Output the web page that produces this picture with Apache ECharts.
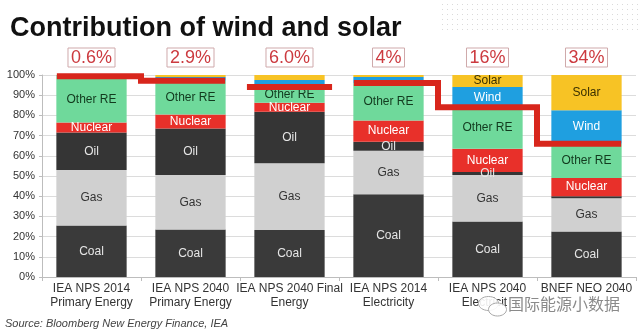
<!DOCTYPE html>
<html>
<head>
<meta charset="utf-8">
<script src="https://cdn.jsdelivr.net/npm/echarts@6/dist/echarts.min.js"></script>
<style>
  html, body { margin: 0; padding: 0; background: #fff; }
  #chart { width: 640px; height: 333px; }
</style>
</head>
<body>
<div id="chart"></div>
<script>
// Energy mix by scenario (% of total)
const categories = [
  'IEA NPS 2014\nPrimary Energy',
  'IEA NPS 2040\nPrimary Energy',
  'IEA NPS 2040 Final\nEnergy',
  'IEA NPS 2014\nElectricity',
  'IEA NPS 2040\nElectricity',
  'BNEF NEO 2040\nElectricity'
];
const coal    = [25.5, 23.5, 23.3, 41.0, 27.5, 22.5];
const gas     = [27.5, 27.0, 33.0, 21.5, 23.0, 16.5];
const oil     = [18.5, 23.0, 25.5,  4.5,  1.5,  1.0];
const nuclear = [ 5.0,  7.0,  4.5, 10.5, 11.5,  9.0];
const otherRE = [22.9, 16.6,  7.7, 18.5, 20.5, 17.0];
const wind    = [ 0.4,  1.9,  3.5,  3.0, 10.0, 16.5];
const solar   = [ 0.2,  1.0,  2.5,  1.0,  6.0, 17.5];

// Combined wind + solar share, shown above each bar
const windSolarShare = [0.6, 2.9, 6.0, 4, 16, 34];
const shareLabels = ['0.6%', '2.9%', '6.0%', '4%', '16%', '34%'];

// Groups of bars joined by the stepped threshold line
const lineGroups = [[0, 1], [2], [3, 4, 5]];

const FONT = '"Liberation Sans", Arial, sans-serif';
const BAR_W = '71%';
const LINE_INSET = 0.15;      // line end inset from category edge (in categories)
const SOLO_INSET = 0.07;

const segs = [
  { name: 'Coal',     data: coal,    color: '#3a3a3a', text: '#e6e6e6', minLabel: 4 },
  { name: 'Gas',      data: gas,     color: '#d0d0d0', text: '#333333', minLabel: 4 },
  { name: 'Oil',      data: oil,     color: '#353535', text: '#e6e6e6', minLabel: 1.5 },
  { name: 'Nuclear',  data: nuclear, color: '#e8302a', text: '#ffffff', minLabel: 4 },
  { name: 'Other RE', data: otherRE, color: '#6fd99b', text: '#123a1e', minLabel: 4 },
  { name: 'Wind',     data: wind,    color: '#1f9fe0', text: '#ffffff', minLabel: 4 },
  { name: 'Solar',    data: solar,   color: '#f7c325', text: '#3a3000', minLabel: 4 }
];

const barSeries = segs.map(s => ({
  name: s.name,
  type: 'bar',
  stack: 'mix',
  barWidth: BAR_W,
  data: s.data,
  itemStyle: { color: s.color },
  label: {
    show: true,
    position: 'inside',
    fontFamily: FONT,
    fontSize: 12,
    color: s.text,
    formatter: p => (p.value >= s.minLabel ? s.name : '')
  },
  silent: true,
  z: 2
}));

// Transparent full-height bar carrying the boxed share labels
const shareSeries = {
  name: 'share',
  type: 'bar',
  barWidth: BAR_W,
  barGap: '-100%',
  data: categories.map(() => 100),
  itemStyle: { color: 'rgba(0,0,0,0)' },
  label: {
    show: true,
    position: 'top',
    distance: 8,
    formatter: p => shareLabels[p.dataIndex],
    fontFamily: FONT,
    fontSize: 18,
    color: '#cc3a3f',
    borderColor: '#cfa9ab',
    borderWidth: 1,
    padding: [1, 3, 0, 3]
  },
  silent: true,
  z: 1
};

// Stepped line at (100 - wind/solar share), built per group
const linePts = [];
lineGroups.forEach((g, gi) => {
  const inset = g.length === 1 ? SOLO_INSET : LINE_INSET;
  g.forEach((ci, k) => {
    const level = 100 - windSolarShare[ci];
    const x0 = k === 0 ? ci + inset : ci;
    const x1 = k === g.length - 1 ? ci + 1 - inset : ci + 1;
    linePts.push([x0, level], [x1, level]);
  });
  if (gi < lineGroups.length - 1) linePts.push(null);
});

const lineSeries = {
  name: 'threshold',
  type: 'line',
  xAxisIndex: 1,
  yAxisIndex: 0,
  data: linePts.map(p => (p === null ? [null, null] : p)),
  connectNulls: false,
  showSymbol: false,
  symbol: 'none',
  lineStyle: { color: '#d8261c', width: 6, cap: 'butt', join: 'miter' },
  silent: true,
  z: 5
};

// Faint dotted texture in the header corner
const dotCanvas = document.createElement('canvas');
dotCanvas.width = 5;
dotCanvas.height = 5;
(function () {
  const ctx = dotCanvas.getContext('2d');
  ctx.fillStyle = '#dadada';
  ctx.fillRect(2, 2, 1, 1);
})();

const chart = echarts.init(document.getElementById('chart'), null, { renderer: 'canvas' });
chart.setOption({
  animation: false,
  backgroundColor: '#ffffff',
  title: {
    text: 'Contribution of wind and solar',
    left: 5,
    top: 10,
    textStyle: { fontFamily: FONT, fontSize: 27, fontWeight: 'bold', color: '#111' }
  },
  grid: { left: 42, right: 4, top: 75, bottom: 56, containLabel: false },
  xAxis: [
    {
      type: 'category',
      data: categories,
      axisLine: { show: true, lineStyle: { color: '#bdbdbd' } },
      axisTick: { show: true, length: 4, lineStyle: { color: '#bdbdbd' } },
      axisLabel: {
        fontFamily: FONT, fontSize: 12, color: '#333', lineHeight: 14, margin: 5,
        interval: 0
      }
    },
    {
      type: 'value',
      min: 0,
      max: categories.length,
      show: false
    }
  ],
  yAxis: {
    type: 'value',
    min: 0,
    max: 100,
    interval: 10,
    axisLine: { show: true, lineStyle: { color: '#bdbdbd' } },
    axisTick: { show: true, length: 3, lineStyle: { color: '#bdbdbd' } },
    axisLabel: { formatter: '{value}%', fontFamily: FONT, fontSize: 11, color: '#333', margin: 7 },
    splitLine: { show: true, lineStyle: { color: '#dcdcdc' } }
  },
  series: [...barSeries, shareSeries, lineSeries],
  graphic: [
    {
      type: 'rect',
      left: 440,
      top: 2,
      shape: { width: 200, height: 28 },
      style: { fill: { image: dotCanvas, repeat: 'repeat' } },
      silent: true,
      z: -1
    },
    {
      type: 'text',
      left: 5,
      top: 318,
      style: {
        text: 'Source: Bloomberg New Energy Finance, IEA',
        font: 'italic 11px ' + FONT,
        fill: '#444'
      }
    },
    {
      type: 'rect',
      left: 507,
      top: 297,
      shape: { width: 118, height: 19 },
      style: { fill: '#ffffff' },
      silent: true,
      z: 100
    },
    {
      type: 'group',
      left: 478,
      top: 296,
      silent: true,
      z: 100,
      children: [
        {
          type: 'ellipse',
          z: 100,
          shape: { cx: 11, cy: 7, rx: 10, ry: 7 },
          style: { fill: 'rgba(255,255,255,0.9)', stroke: '#a8a8a8', lineWidth: 1 }
        },
        {
          type: 'ellipse',
          z: 101,
          shape: { cx: 20, cy: 13, rx: 9, ry: 6.5 },
          style: { fill: 'rgba(255,255,255,0.9)', stroke: '#a8a8a8', lineWidth: 1 }
        }
      ]
    },
    {
      type: 'text',
      left: 508,
      top: 296,
      z: 102,
      style: {
        text: '国际能源小数据',
        font: '16px "Noto Sans CJK SC", sans-serif',
        fill: '#8a8a8a'
      }
    }
  ]
});
</script>
</body>
</html>
